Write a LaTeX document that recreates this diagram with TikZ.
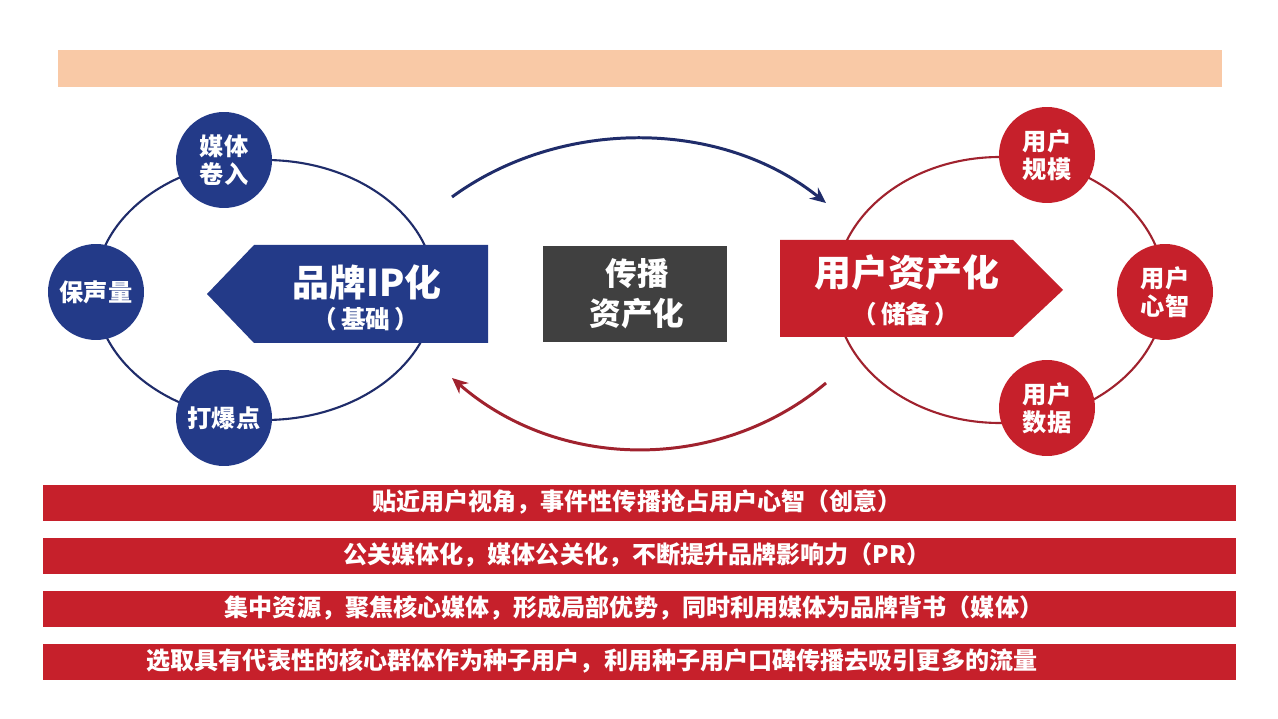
\documentclass[tikz,border=0pt]{standalone}
\usepackage{fontspec}
\setmainfont{Noto Sans CJK SC}
\usetikzlibrary{arrows.meta}
\definecolor{peach}{HTML}{F9C9A6}
\definecolor{navy}{HTML}{233A88}
\definecolor{navyline}{HTML}{1F2C6A}
\definecolor{bred}{HTML}{C6202B}
\definecolor{dred}{HTML}{A0222E}
\definecolor{greybox}{HTML}{404040}
\tikzset{
  bcirc/.style={circle,fill=navy,minimum size=1.92cm,inner sep=0pt,text=white,font=\bfseries\fontsize{13.8pt}{16pt}\selectfont,align=center},
  rcirc/.style={circle,fill=bred,minimum size=1.92cm,inner sep=0pt,text=white,font=\bfseries\fontsize{13.8pt}{16pt}\selectfont,align=center},
  bartxt/.style={text=white,font=\bfseries\fontsize{13.7pt}{16pt}\selectfont},
  bigtxt/.style={text=white,font=\bfseries\fontsize{21pt}{24pt}\selectfont},
  subtxt/.style={text=white,font=\bfseries\fontsize{14pt}{16pt}\selectfont},
  ring/.style={line width=1.2pt},
  flow/.style={line width=1.7pt,-{Stealth[length=9pt,width=8pt]}}
}
\begin{document}
\begin{tikzpicture}[x=0.02cm,y=-0.02cm]
\fill[white] (0,0) rectangle (1278,719);
\useasboundingbox (0,0) rectangle (1278,719);
% top band
\fill[peach] (58,50) rectangle (1222,87);
% ellipses
\draw[ring,navyline] (265,290) ellipse [x radius=170,y radius=130];
\draw[ring,dred] (1000,290) ellipse [x radius=165,y radius=133];
% left arrow shape
\fill[navy] (207,294) -- (254,245) -- (488,245) -- (488,343) -- (254,343) -- cycle;
\node[bigtxt] (brand) at (367,282) {品牌IP化};
\node[subtxt] (base) at (366,319) {（\,基础\,）};
% grey box
\fill[greybox] (543,246) rectangle (727,342);
\node[text=white,font=\bfseries\fontsize{18pt}{23pt}\selectfont,align=center] (spread) at (637,294) {传播\\资产化};
% right arrow shape
\fill[bred] (780,240) -- (1013,240) -- (1063,290) -- (1013,337) -- (780,337) -- cycle;
\node[bigtxt] (user) at (907,273) {用户资产化};
\node[subtxt] (store) at (906,314) {（\,储备\,）};
% circles
\node[bcirc] (c1) at (224,160) {媒体\\卷入};
\node[bcirc] (c2) at (96,292) {保声量};
\node[bcirc] (c3) at (224,418) {打爆点};
\node[rcirc] (r1) at (1047,155) {用户\\规模};
\node[rcirc] (r2) at (1165,292) {用户\\心智};
\node[rcirc] (r3) at (1047,408) {用户\\数据};
% curved flows
\coordinate (ta) at (452,197);
\coordinate (tb) at (826,203);
\coordinate (ba) at (826,383);
\coordinate (bb) at (452,378);
\draw[flow,navyline] (ta) .. controls (560,118) and (720,118) .. (tb);
\draw[flow,dred] (ba) .. controls (720,472) and (560,472) .. (bb);
% bars
\fill[bred] (43,485) rectangle (1236,521);
\fill[bred] (43,538) rectangle (1236,574);
\fill[bred] (43,591) rectangle (1236,627);
\fill[bred] (43,644) rectangle (1236,680);
\node[bartxt] (t1) at (637,502) {贴近用户视角，事件性传播抢占用户心智（创意）};
\node[bartxt] (t2) at (637,555) {公关媒体化，媒体公关化，不断提升品牌影响力（PR）};
\node[bartxt] (t3) at (634,608) {集中资源，聚焦核心媒体，形成局部优势，同时利用媒体为品牌背书（媒体）};
\node[bartxt] (t4) at (592,661) {选取具有代表性的核心群体作为种子用户，利用种子用户口碑传播去吸引更多的流量};
\end{tikzpicture}
\end{document}
